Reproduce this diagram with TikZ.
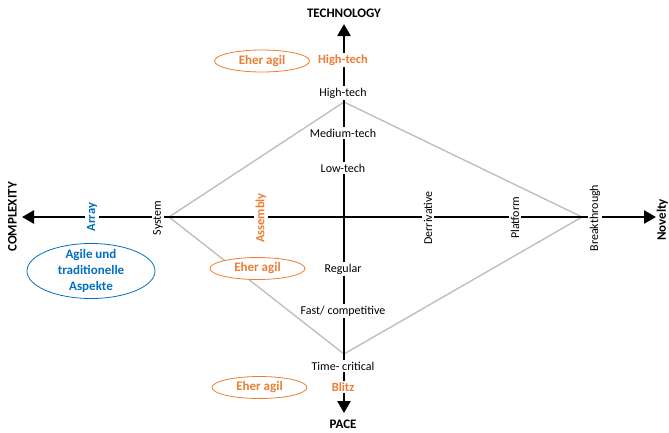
\documentclass[tikz,border=0pt]{standalone}
\usepackage{fontspec}
\setmainfont{Carlito}
\usepackage{xcolor}
\usepackage{tikz}
\usetikzlibrary{arrows.meta,shapes.geometric}
\definecolor{ntorange}{HTML}{ED7D31}
\definecolor{ntblue}{HTML}{0070C0}
\definecolor{ntgray}{HTML}{BFBFBF}

\begin{document}
\begin{tikzpicture}[
  x=1pt, y=-1pt,
  font=\fontsize{12}{14}\selectfont,
  axis/.style={line width=2.6pt, -{Triangle[length=12pt,width=13pt]}},
  rim/.style={draw=ntgray, line width=1.4pt, line join=miter},
  tick/.style={fill=white, inner sep=1.5pt},
  vtick/.style={tick, rotate=90},
  title/.style={font=\fontsize{13}{15}\selectfont\bfseries},
  hint/.style={font=\fontsize{12.5}{15}\selectfont\bfseries, text=ntorange},
  agil/.style={draw=ntorange, ellipse, fill=white, line width=0.8pt,
    minimum width=95pt, minimum height=22pt, inner sep=0pt,
    text=ntorange, font=\fontsize{13}{15}\selectfont\bfseries},
  ]
  \useasboundingbox (0,0) rectangle (669,432);
  % axes and diamond
  \coordinate (o) at (344,217);
  \coordinate (ntop) at (344,24);
  \coordinate (nbot) at (344,413);
  \coordinate (nleft) at (22,217);
  \coordinate (nright) at (656,217);
  \coordinate (dtop) at (344,102);
  \coordinate (dright) at (582,217);
  \coordinate (dbot) at (344,354);
  \coordinate (dleft) at (169,217);
  \draw[rim] (dtop) -- (dright) -- (dbot) -- (dleft) -- cycle;
  \draw[axis] (o) -- (ntop);
  \draw[axis] (o) -- (nbot);
  \draw[axis] (o) -- (nleft);
  \draw[axis] (o) -- (nright);
  % technology / pace
  \node[title] (technology) at (344,13) {TECHNOLOGY};
  \node[tick, hint] (hitechB) at (343,60) {High-tech};
  \node[tick] (hitech) at (343,93) {High-tech};
  \node[tick] (medtech) at (343,133) {Medium-tech};
  \node[tick] (lowtech) at (343,168) {Low-tech};
  \node[tick] (regular) at (343,269) {Regular};
  \node[tick] (fast) at (343,311) {Fast/ competitive};
  \node[tick] (timecrit) at (343,366) {Time- critical};
  \node[tick, hint] (blitz) at (343,387) {Blitz};
  \node[title] (pace) at (343,424) {PACE};
  % complexity / novelty
  \node[title, rotate=90] (complexity) at (12.5,217) {COMPLEXITY};
  \node[vtick, hint, text=ntblue] (array) at (92,217) {Array};
  \node[vtick] (system) at (158,218) {System};
  \node[vtick, hint] (assembly) at (261,218) {Assembly};
  \node[vtick] (deriv) at (428,218) {Derrivative};
  \node[vtick] (platform) at (515,218) {Platform};
  \node[vtick] (breakthrough) at (595,218) {Breakthrough};
  \node[title, rotate=90, anchor=north, inner sep=0pt] (novelty) at (656.5,220) {Novelty};
  % remarks
  \node[agil] (agiltop) at (262,61) {Eher agil};
  \node[agil] (agilmid) at (257.5,268.5) {Eher agil};
  \node[agil] (agilbot) at (259.5,387.5) {Eher agil};
  \node[draw=ntblue, ellipse, line width=0.8pt, minimum width=128pt,
    minimum height=55pt, inner sep=-5pt, align=center, text=ntblue,
    font=\fontsize{13}{16}\selectfont\bfseries] (aspekte) at (91,271)
    {Agile und\\traditionelle\\Aspekte};
\end{tikzpicture}
\end{document}
